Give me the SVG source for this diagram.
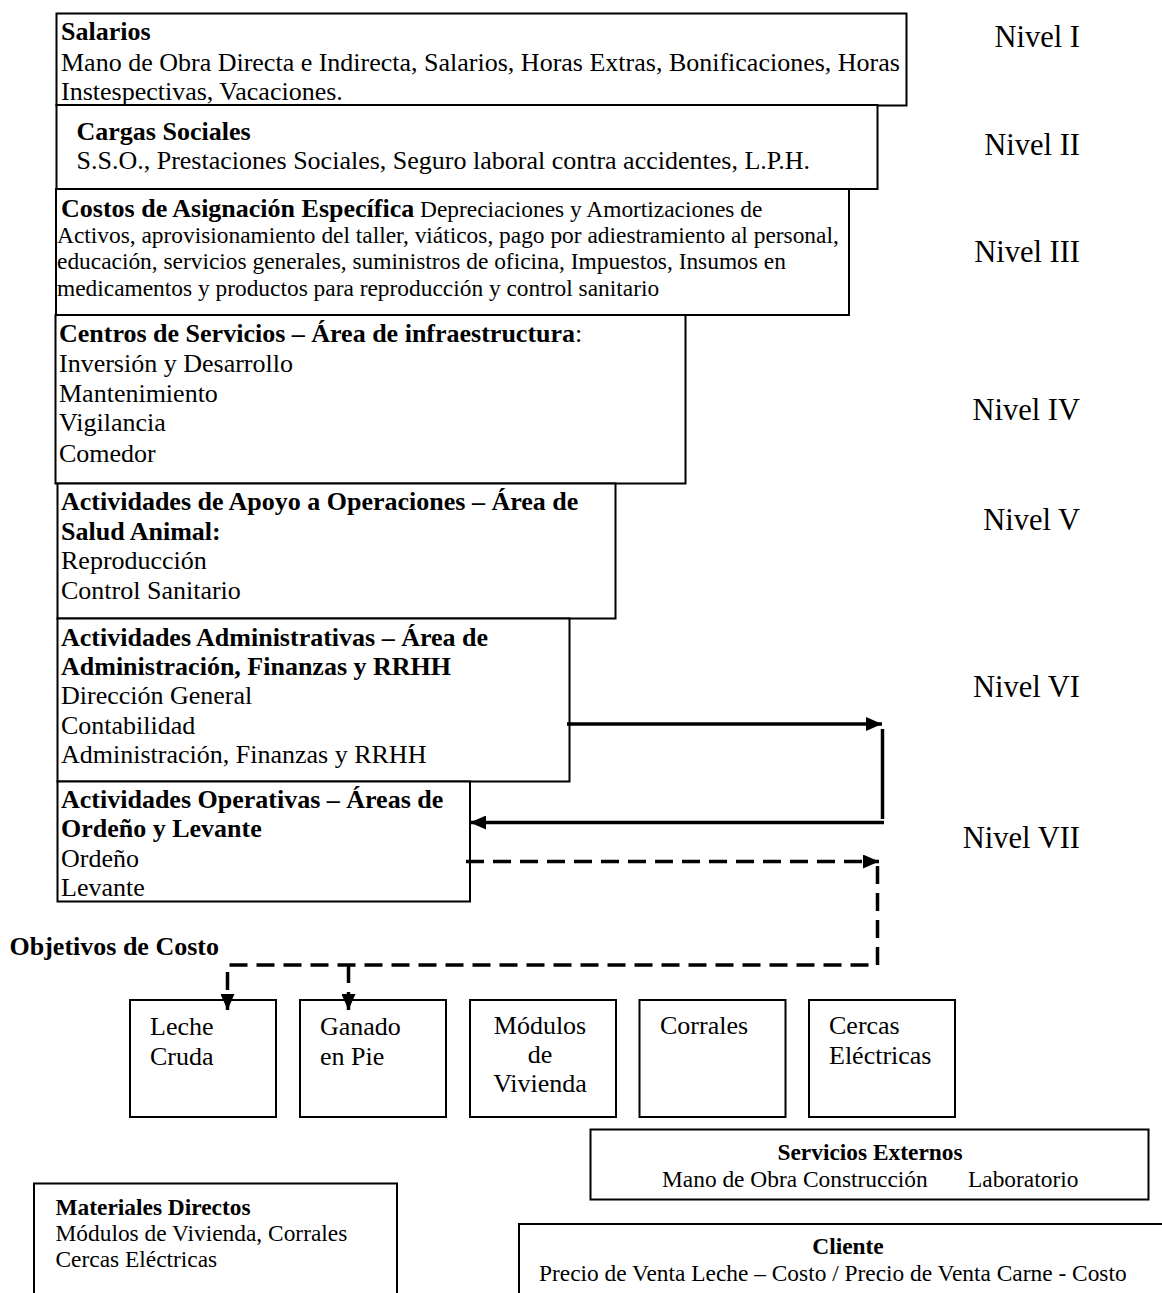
<svg xmlns="http://www.w3.org/2000/svg" width="1162" height="1293" viewBox="0 0 1162 1293">
<defs>
<style>
text{font-family:"Liberation Serif","Times New Roman",serif;fill:#000}
.t{font-size:26px}
.s{font-size:23.4px}
.b{font-weight:bold}
.n{font-size:30.5px;text-anchor:end}
.m{text-anchor:middle}
.box{fill:#fff;stroke:#000;stroke-width:2}
.c{fill:none;stroke:#000;stroke-width:3.5}
.d{fill:none;stroke:#000;stroke-width:3.5;stroke-dasharray:18,9}
</style>
<marker id="ah" viewBox="0 0 16 14" refX="16" refY="7" markerWidth="16" markerHeight="14" orient="auto" markerUnits="userSpaceOnUse">
<path d="M0,0 L16,7 L0,14 z" fill="#000"/>
</marker>
</defs>
<rect width="1162" height="1293" fill="#fff"/>

<g id="n1">
<rect class="box" x="56.5" y="13.5" width="850" height="92"/>
<text class="t b" x="61" y="40">Salarios</text>
<text class="t" x="61" y="71">Mano de Obra Directa e Indirecta, Salarios, Horas Extras, Bonificaciones, Horas</text>
<text class="t" x="61" y="99.5">Instespectivas, Vacaciones.</text>
</g>
<g id="n2">
<rect class="box" x="56.5" y="105" width="821" height="84"/>
<text class="t b" x="76.5" y="140">Cargas Sociales</text>
<text class="t" x="76.5" y="169">S.S.O., Prestaciones Sociales, Seguro laboral contra accidentes, L.P.H.</text>
</g>
<g id="n3">
<rect class="box" x="56" y="189" width="793" height="126"/>
<text class="s" x="61" y="217"><tspan class="b t">Costos de Asignación Específica</tspan> Depreciaciones y Amortizaciones de</text>
<text class="s" x="57" y="243">Activos, aprovisionamiento del taller, viáticos, pago por adiestramiento al personal,</text>
<text class="s" x="57" y="269">educación, servicios generales, suministros de oficina, Impuestos, Insumos en</text>
<text class="s" x="57" y="296">medicamentos y productos para reproducción y control sanitario</text>
</g>
<g id="n4">
<rect class="box" x="55.5" y="315" width="630" height="168.5"/>
<text class="t" x="59" y="342"><tspan class="b">Centros de Servicios – Área de infraestructura</tspan>:</text>
<text class="t" x="59" y="372">Inversión y Desarrollo</text>
<text class="t" x="59" y="401.5">Mantenimiento</text>
<text class="t" x="59" y="431">Vigilancia</text>
<text class="t" x="59" y="461.5">Comedor</text>
</g>
<g id="n5">
<rect class="box" x="57.5" y="483.5" width="558" height="135"/>
<text class="t b" x="61" y="510">Actividades de Apoyo a Operaciones – Área de</text>
<text class="t b" x="61" y="540">Salud Animal:</text>
<text class="t" x="61" y="569">Reproducción</text>
<text class="t" x="61" y="599">Control Sanitario</text>
</g>
<g id="n6">
<rect class="box" x="57.5" y="618.5" width="512" height="163"/>
<text class="t b" x="61" y="646">Actividades Administrativas – Área de</text>
<text class="t b" x="61" y="675">Administración, Finanzas y RRHH</text>
<text class="t" x="61" y="704">Dirección General</text>
<text class="t" x="61" y="734">Contabilidad</text>
<text class="t" x="61" y="763">Administración, Finanzas y RRHH</text>
</g>
<g id="n7">
<rect class="box" x="57.5" y="781.5" width="412.5" height="120"/>
<text class="t b" x="61" y="808">Actividades Operativas – Áreas de</text>
<text class="t b" x="61" y="837">Ordeño y Levante</text>
<text class="t" x="61" y="867">Ordeño</text>
<text class="t" x="61" y="896">Levante</text>
</g>

<g id="levels">
<text class="n" x="1080" y="47">Nivel I</text>
<text class="n" x="1080" y="155">Nivel II</text>
<text class="n" x="1080" y="262">Nivel III</text>
<text class="n" x="1080" y="420">Nivel IV</text>
<text class="n" x="1080" y="530">Nivel V</text>
<text class="n" x="1080" y="697">Nivel VI</text>
<text class="n" x="1080" y="848">Nivel VII</text>
</g>

<text id="objetivos" class="t b" x="9.5" y="955">Objetivos de Costo</text>

<g id="o1">
<rect class="box" x="130" y="1000" width="146" height="117"/>
<text class="t" x="150" y="1035">Leche</text>
<text class="t" x="150" y="1065">Cruda</text>
</g>
<g id="o2">
<rect class="box" x="300" y="1000" width="146" height="117"/>
<text class="t" x="320" y="1035">Ganado</text>
<text class="t" x="320" y="1065">en Pie</text>
</g>
<g id="o3">
<rect class="box" x="470" y="1000" width="146" height="117"/>
<text class="t m" x="540" y="1034">Módulos</text>
<text class="t m" x="540" y="1063">de</text>
<text class="t m" x="540" y="1092">Vivienda</text>
</g>
<g id="o4">
<rect class="box" x="639.5" y="1000" width="146" height="117"/>
<text class="t" x="660" y="1034">Corrales</text>
</g>
<g id="o5">
<rect class="box" x="809" y="1000" width="146" height="117"/>
<text class="t" x="829" y="1034">Cercas</text>
<text class="t" x="829" y="1064">Eléctricas</text>
</g>

<g id="servicios">
<rect class="box" x="590.5" y="1129.5" width="558" height="70"/>
<text class="s b m" x="870" y="1160">Servicios Externos</text>
<text class="s" x="662" y="1187">Mano de Obra Construcción</text>
<text class="s" x="968" y="1187">Laboratorio</text>
</g>
<g id="materiales">
<rect class="box" x="34" y="1183.5" width="363" height="130"/>
<text class="s b" x="55.5" y="1215">Materiales Directos</text>
<text class="s" x="55.5" y="1241">Módulos de Vivienda, Corrales</text>
<text class="s" x="55.5" y="1267">Cercas Eléctricas</text>
</g>
<g id="cliente">
<rect class="box" x="519" y="1224" width="680" height="100"/>
<text class="s b m" x="848" y="1254">Cliente</text>
<text class="s" x="539" y="1281">Precio de Venta Leche – Costo / Precio de Venta Carne - Costo</text>
</g>

<g id="connectors">
<line class="c" x1="567" y1="724" x2="882" y2="724" marker-end="url(#ah)"/>
<line class="c" x1="882.5" y1="729" x2="882.5" y2="819"/>
<line class="c" x1="884" y1="822.5" x2="470" y2="822.5" marker-end="url(#ah)"/>
<line class="d" x1="466" y1="861.5" x2="879" y2="861.5" marker-end="url(#ah)"/>
<polyline class="d" points="877.5,866 877.5,965 227.5,965 227.5,1010" marker-end="url(#ah)"/>
<line class="d" x1="348.5" y1="965" x2="348.5" y2="1010" marker-end="url(#ah)"/>
</g>
</svg>
